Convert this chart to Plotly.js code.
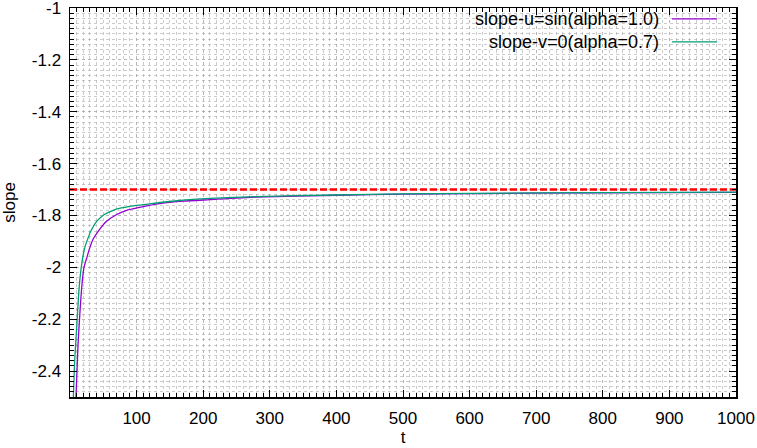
<!DOCTYPE html>
<html>
<head>
<meta charset="utf-8">
<script src="https://cdn.plot.ly/plotly-3.0.1.min.js"></script>
<style>
  html, body { margin: 0; padding: 0; background: #fff; }
  #chart { width: 757px; height: 448px; }
</style>
</head>
<body>
<div id="chart"></div>
<script>
// values
const tU = [9, 12, 15, 18, 21, 25, 29.5, 35, 42, 54.5, 69.5, 85, 102, 117, 135, 170, 210, 280, 400, 500, 700, 1000];
const slopeU = [-2.5, -2.3, -2.17, -2.065, -2.0, -1.965, -1.926, -1.89, -1.862, -1.823, -1.797, -1.78, -1.77, -1.762, -1.754, -1.745, -1.739, -1.729, -1.722, -1.718, -1.714, -1.711];

const tV = [5, 7, 10, 14, 18, 22, 26, 31, 40, 51, 63, 77, 95, 117, 135, 170, 210, 280, 400, 500, 700, 1000];
const slopeV = [-2.5, -2.36, -2.233, -2.07, -1.98, -1.926, -1.895, -1.862, -1.823, -1.797, -1.782, -1.771, -1.763, -1.756, -1.75, -1.741, -1.734, -1.727, -1.721, -1.717, -1.713, -1.71];

const refT = [0, 1000];
const refSlope = [-1.7, -1.7];

const seriesNames = ['slope-u=sin(alpha=1.0)', 'slope-v=0(alpha=0.7)'];
const seriesColors = ['#9400d3', '#009e73'];

const xTickVals = [100, 200, 300, 400, 500, 600, 700, 800, 900, 1000];
const yTickVals = [-2.4, -2.2, -2, -1.8, -1.6, -1.4, -1.2, -1];
const yTickText = ['-2.4', '-2.2', '-2', '-1.8', '-1.6', '-1.4', '-1.2', '-1'];

const font = 'Liberation Sans, Arial, sans-serif';
const fsize = 17;
const gridStyle = { gridcolor: '#a8a8a8', gridwidth: 0.6, griddash: 'dot' };

const traces = [
    { x: tU, y: slopeU, mode: 'lines', name: seriesNames[0],
      line: { color: seriesColors[0], width: 1.3, shape: 'spline', smoothing: 0.6 } },
    { x: tV, y: slopeV, mode: 'lines', name: seriesNames[1],
      line: { color: seriesColors[1], width: 1.3, shape: 'spline', smoothing: 0.6 } },
    { x: refT, y: refSlope, mode: 'lines', name: 'ref',
      line: { color: '#ff0000', width: 2.5, dash: '7px,3px' } }
];

// legend box drawn gnuplot-style: text on the left, sample line on the right
const legendRows = [0.972, 0.913];
const shapes = [
    { type: 'rect', xref: 'x domain', yref: 'y domain', x0: 0.55, x1: 0.9985, y0: 0.882, y1: 0.995,
      fillcolor: '#ffffff', line: { width: 0 }, layer: 'below' }
];
const annotations = [];
legendRows.forEach((yy, i) => {
    shapes.push({ type: 'line', xref: 'paper', yref: 'paper', x0: 0.904, x1: 0.9715, y0: yy, y1: yy,
                  line: { color: seriesColors[i], width: 1.3 } });
    annotations.push({ xref: 'paper', yref: 'paper', x: 0.8874, y: yy, xanchor: 'right', yanchor: 'middle',
                       text: seriesNames[i], showarrow: false, font: { family: font, size: 18, color: '#000' } });
});

const layout = {
    width: 757, height: 448,
    margin: { l: 70, r: 21, t: 8, b: 51 },
    paper_bgcolor: '#ffffff', plot_bgcolor: '#ffffff',
    showlegend: false,
    font: { family: font, size: fsize, color: '#000' },
    xaxis: Object.assign({
        range: [0, 1000], tickvals: xTickVals, ticks: 'inside', ticklen: 7, tickwidth: 1, tickcolor: '#000',
        ticklabelstandoff: 5, ticklabeloverflow: 'allow',
        showline: true, linecolor: '#000', linewidth: 1.5, mirror: 'allticks', zeroline: false,
        showgrid: true,
        minor: Object.assign({ dtick: 10, ticks: 'inside', ticklen: 4, tickcolor: '#000', showgrid: true }, gridStyle),
        title: { text: 't', font: { family: font, size: fsize }, standoff: 2 }
    }, gridStyle),
    yaxis: Object.assign({
        range: [-2.5, -0.9999], tickvals: yTickVals, ticktext: yTickText, ticks: 'inside', ticklen: 7, tickwidth: 1, tickcolor: '#000',
        ticklabelstandoff: 4, ticklabeloverflow: 'allow',
        showline: true, linecolor: '#000', linewidth: 1.5, mirror: 'allticks', zeroline: false,
        showgrid: true,
        minor: Object.assign({ dtick: 0.02, ticks: 'inside', ticklen: 4, tickcolor: '#000', showgrid: true }, gridStyle),
        title: { text: 'slope', font: { family: font, size: fsize }, standoff: 12 }
    }, gridStyle),
    shapes: shapes,
    annotations: annotations
};

Plotly.newPlot('chart', traces, layout, { displayModeBar: false, staticPlot: true });
</script>
</body>
</html>
